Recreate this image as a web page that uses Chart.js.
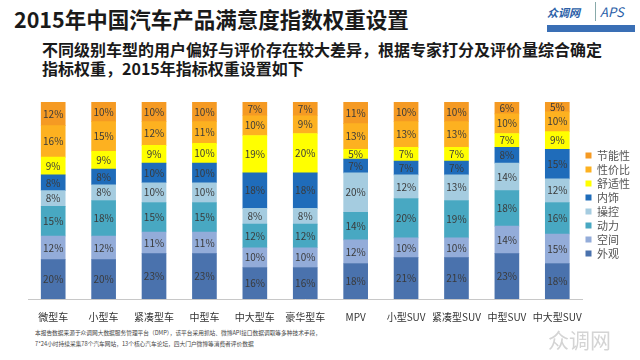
<!DOCTYPE html>
<html>
<head>
<meta charset="utf-8">
<script src="https://cdn.jsdelivr.net/npm/chart.js@4"></script>
<style>
  body { margin: 0; width: 640px; height: 360px; background: #fff; position: relative; overflow: hidden;
         font-family: "Noto Sans CJK SC", "Noto Sans", sans-serif; }
  .title { position: absolute; left: 14px; top: 3px; font-size: 21.5px; font-weight: bold; color: #1a1a1a; }
  .sub { position: absolute; left: 42px; top: 40px; font-size: 16px; font-weight: bold; color: #1a1a1a; line-height: 19px; }
  .logo { position: absolute; left: 545px; top: 4px; width: 92px; height: 30px; }
  .logo .a { position: absolute; left: 2px; top: 0; font-size: 11px; font-weight: bold; font-style: italic; color: #2b5fa8; }
  .logo .b { position: absolute; left: 50px; top: -2px; font-size: 13px; font-style: italic; color: #2b5fa8; border-left: 1px solid #8aa; padding-left: 4px; }
  .logo .c { position: absolute; left: 2px; top: 21px; width: 88px; height: 7px; background: #3a6fb5; }
  .note { position: absolute; left: 35px; top: 328px; font-size: 10px; line-height: 18px; color: #444;
          transform: scale(0.57); transform-origin: left top; white-space: nowrap; }
  .mark { position: absolute; left: 548px; top: 324px; font-size: 21px; color: #d4d4d4; }
  #wrap { position: absolute; left: 0; top: 92px; width: 640px; height: 235px; }
</style>
</head>
<body>
<div class="title">2015年中国汽车产品满意度指数权重设置</div>
<div class="sub">不同级别车型的用户偏好与评价存在较大差异，根据专家打分及评价量综合确定<br>指标权重，2015年指标权重设置如下</div>
<div class="logo"><span class="a">众调网</span><span class="b">APS</span><div class="c"></div></div>
<div id="wrap"><canvas id="chart"></canvas></div>
<div class="note">本报告数据来源于众调网大数据服务管理平台（DMP），该平台采用抓站、微博API接口数据调取等多种技术手段，<br>7*24小时持续采集78个汽车网站，13个核心汽车论坛，四大门户微博等消费者评价数据</div>
<div class="mark">众调网</div>
<script>
const categories = ["微型车", "小型车", "紧凑型车", "中型车", "中大型车", "豪华型车", "MPV", "小型SUV", "紧凑型SUV", "中型SUV", "中大型SUV"];

// 从下到上
const waiguan   = [20, 20, 23, 23, 16, 16, 18, 21, 21, 23, 18];
const kongjian  = [12, 12, 11, 11, 10, 10, 12, 10, 10, 14, 15];
const dongli    = [15, 18, 15, 15, 12, 12, 14, 20, 19, 18, 16];
const caokong   = [8, 8, 10, 10, 8, 8, 20, 12, 13, 14, 12];
const neishi    = [8, 8, 10, 10, 18, 18, 7, 7, 7, 8, 15];
const shushi    = [9, 9, 9, 10, 19, 20, 5, 7, 7, 7, 9];
const xingjiabi = [16, 15, 12, 11, 10, 9, 13, 13, 13, 10, 10];
const jieneng   = [12, 10, 10, 10, 7, 7, 11, 10, 10, 6, 5];

const seriesNames = ["外观", "空间", "动力", "操控", "内饰", "舒适性", "性价比", "节能性"];
const seriesData = [waiguan, kongjian, dongli, caokong, neishi, shushi, xingjiabi, jieneng];
const colors = ["#4a72ad", "#93acd9", "#48a8c2", "#a5cce0", "#1f6cba", "#ffff00", "#fdb120", "#f59a23"];

// 柱子里的百分比
const barLabels = {
    id: "barLabels",
    afterDatasetsDraw(c) {
        const ctx = c.ctx;
        ctx.save();
        ctx.font = "10px 'Noto Sans CJK SC', sans-serif";
        ctx.fillStyle = "#3a3a3a";
        ctx.textAlign = "center";
        ctx.textBaseline = "middle";
        c.data.datasets.forEach((ds, i) => {
            c.getDatasetMeta(i).data.forEach((bar, j) => {
                ctx.fillText(ds.data[j] + "%", bar.x, (bar.y + bar.base) / 2);
            });
        });
        ctx.restore();
    }
};

new Chart(document.getElementById("chart"), {
    type: "bar",
    data: {
        labels: categories,
        datasets: seriesNames.map((name, i) => ({
            label: name,
            data: seriesData[i],
            backgroundColor: colors[i],
            barThickness: 24
        }))
    },
    options: {
        responsive: true,
        maintainAspectRatio: false,
        animation: false,
        layout: { padding: { left: 28, top: 10, right: 0, bottom: 0 } },
        plugins: {
            legend: {
                position: "right",
                reverse: true,
                align: "start",
                // 空标题只用来把图例往下推
                title: { display: true, text: " ", font: { size: 10 }, padding: { top: 33, bottom: 0 } },
                labels: {
                    boxWidth: 6,
                    boxHeight: 6,
                    padding: 3,
                    color: "#555",
                    font: { size: 11, family: "'Noto Sans CJK SC', sans-serif" }
                }
            },
            tooltip: { enabled: false }
        },
        scales: {
            x: {
                stacked: true,
                grid: { display: false },
                border: { color: "#c8c8c8", width: 1 },
                ticks: {
                    color: "#333",
                    padding: 4,
                    maxRotation: 0,
                    minRotation: 0,
                    autoSkip: false,
                    font: { size: 10, family: "'Noto Sans CJK SC', sans-serif" }
                }
            },
            y: {
                stacked: true,
                display: false,
                min: 0,
                max: 100
            }
        }
    },
    plugins: [barLabels]
});
</script>
</body>
</html>
